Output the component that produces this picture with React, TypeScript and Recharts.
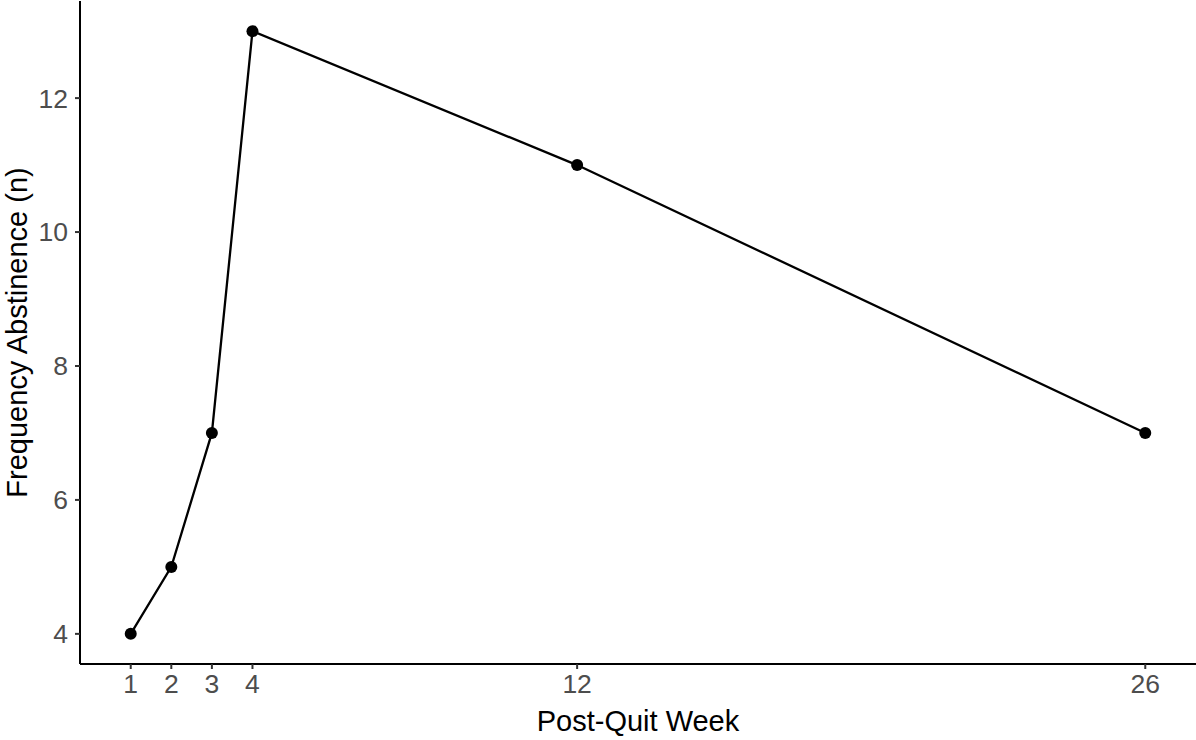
import React from "react";
import { LineChart, Line, XAxis, YAxis } from "recharts";

const weeks = [1, 2, 3, 4, 12, 26];
const abstinence = [4, 5, 7, 13, 11, 7];
const xTicks = [1, 2, 3, 4, 12, 26];
const yTicks = [4, 6, 8, 10, 12];

const data = weeks.map((w, i) => ({ week: w, n: abstinence[i] }));

const FONT = "Liberation Sans, Arial, Helvetica, sans-serif";

const XLabel = (props: any) => {
  const vb = props.viewBox || {};
  return (
    <text x={vb.x + vb.width / 2} y={731} textAnchor="middle" fontSize={29} fill="#000" fontFamily={FONT}>
      Post-Quit Week
    </text>
  );
};

const YLabel = (props: any) => {
  const vb = props.viewBox || {};
  const cy = vb.y + vb.height / 2;
  const cx = 26.5;
  return (
    <text x={cx} y={cy} transform={`rotate(-90 ${cx} ${cy})`} textAnchor="middle" fontSize={29} fill="#000" fontFamily={FONT}>
      Frequency Abstinence (n)
    </text>
  );
};

export default function App() {
  return (
    <div style={{ position: "absolute", left: 0, top: 0, background: "#fff" }}>
      <LineChart width={1196} height={740} data={data} margin={{ top: 1, right: 0, left: 0, bottom: 0 }}>
        <XAxis
          dataKey="week"
          type="number"
          domain={[-0.25, 27.25]}
          ticks={xTicks}
          interval={0}
          height={76}
          axisLine={{ stroke: "#000", strokeWidth: 2 }}
          tickLine={{ stroke: "#333", strokeWidth: 2 }}
          tickSize={5}
          tickMargin={5}
          tick={{ fill: "#4D4D4D", fontSize: 26.5, fontFamily: FONT }}
          label={{ content: XLabel }}
        />
        <YAxis
          type="number"
          domain={[3.55, 13.45]}
          ticks={yTicks}
          interval={0}
          width={80}
          axisLine={{ stroke: "#000", strokeWidth: 2 }}
          tickLine={{ stroke: "#333", strokeWidth: 2 }}
          tickSize={5}
          tickMargin={7}
          tick={{ fill: "#4D4D4D", fontSize: 26.5, fontFamily: FONT }}
          label={{ content: YLabel }}
        />
        <Line
          dataKey="n"
          type="linear"
          stroke="#000"
          strokeWidth={2.3}
          dot={{ r: 6, fill: "#000", stroke: "#000", strokeWidth: 0 }}
          activeDot={false}
          isAnimationActive={false}
        />
      </LineChart>
    </div>
  );
}
